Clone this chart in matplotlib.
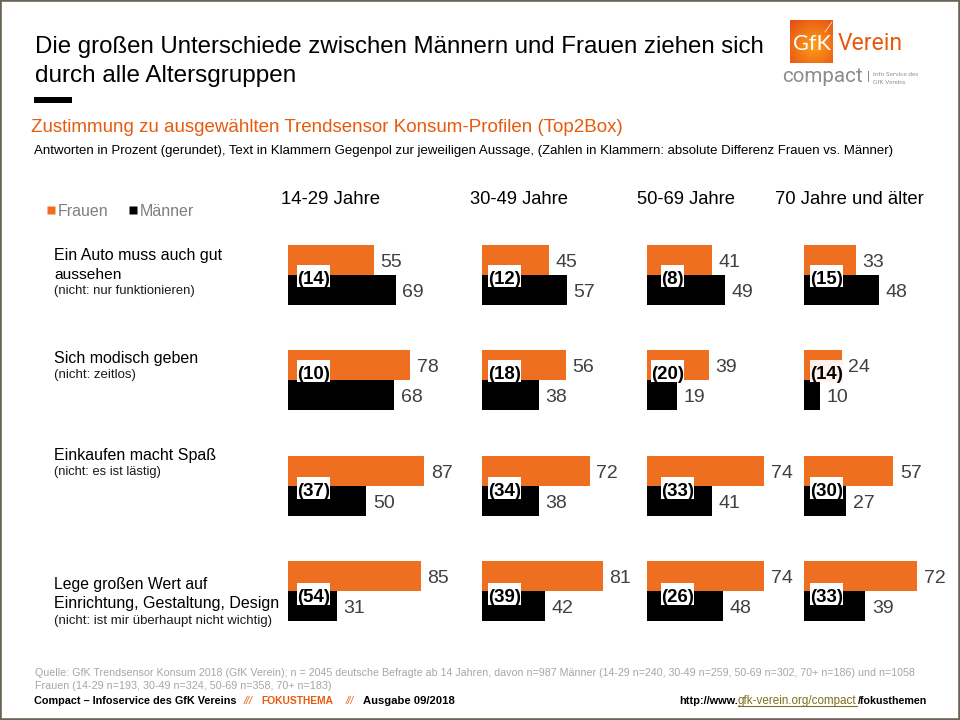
import numpy as np
import matplotlib
matplotlib.use("Agg")
import matplotlib.pyplot as plt
from matplotlib.patches import Rectangle
from matplotlib.lines import Line2D

# ---------- data ----------
panels = ["14-29 Jahre", "30-49 Jahre", "50-69 Jahre", "70 Jahre und älter"]
frauen = [[55, 78, 87, 85], [45, 56, 72, 81], [41, 39, 74, 74], [33, 24, 57, 72]]
maenner = [[69, 68, 50, 31], [57, 38, 38, 42], [49, 19, 41, 48], [48, 10, 27, 39]]
diffs = [[14, 10, 37, 54], [12, 18, 34, 39], [8, 20, 33, 26], [15, 14, 30, 33]]
series_names = ["Frauen", "Männer"]

# ---------- style / layout ----------
ORANGE = "#EE6F20"
TITLE_OR = "#E75B0D"
BORDER = "#6B6358"
FONT = "Liberation Sans"
W, H = 960, 720
plt.rcParams["font.family"] = [FONT, "DejaVu Sans"]

fig = plt.figure(figsize=(9.6, 7.2), dpi=100, facecolor="white")
renderer = fig.canvas.get_renderer()


def fx(x):
    return x / W


def fy(y):
    return 1 - y / H


def fit(s, x0, x1, base, color="black", size=10, weight="normal", style="normal", family=FONT, zorder=6):
    """Text starting at pixel x0, sized so that it ends at pixel x1."""
    t = fig.text(fx(x0), fy(base), s, color=color, fontsize=size, fontweight=weight, fontstyle=style,
                 family=family, ha="left", va="baseline", zorder=zorder)
    for _ in range(3):
        w = t.get_window_extent(renderer).width
        size = size * (x1 - x0) / w
        t.set_fontsize(size)
    return t


def box(x0, y0, x1, y1, color, zorder=2):
    fig.add_artist(Rectangle((fx(x0), fy(y1)), (x1 - x0) / W, (y1 - y0) / H, transform=fig.transFigure,
                             facecolor=color, edgecolor="none", zorder=zorder))


# frame
fig.add_artist(Rectangle((0, 0), 1, 1, transform=fig.transFigure, facecolor="none",
                         edgecolor=BORDER, linewidth=2.6, zorder=20))

# titles
fit("Die großen Unterschiede zwischen Männern und Frauen ziehen sich", 35, 763, 53, size=16)
fit("durch alle Altersgruppen", 35, 295, 82, size=16)
box(34, 97, 72, 103, "black")
fit("Zustimmung zu ausgewählten Trendsensor Konsum-Profilen (Top2Box)", 31, 622, 132, color=TITLE_OR, size=13)
fit("Antworten in Prozent (gerundet), Text in Klammern Gegenpol zur jeweiligen Aussage, (Zahlen in Klammern: "
    "absolute Differenz Frauen vs. Männer)", 34, 895, 154, size=8)

# legend
handles = [Line2D([], [], ls="none", marker="s", ms=6.2, mfc=c, mec="none") for c in (ORANGE, "black")]
fig.legend(handles, series_names, loc="center left", bbox_to_anchor=(fx(43), fy(211)), frameon=False,
           ncol=2, fontsize=11.5, labelcolor="#7F7F7F", handlelength=1.0, handletextpad=-0.05,
           columnspacing=1.0, borderpad=0, borderaxespad=0)

# panel headers
header_x = [(281, 380), (470, 568), (637, 735), (775, 924)]
for name, (a, b) in zip(panels, header_x):
    fit(name, a, b, 204, size=12)

# row labels
row_lines = [
    [("Ein Auto muss auch gut", 54, 222, 260, 0), ("aussehen", 54, 121, 279, 0),
     ("(nicht: nur funktionieren)", 54, 194, 294, 1)],
    [("Sich modisch geben", 54, 198, 363, 0), ("(nicht: zeitlos)", 54, 136, 378, 1)],
    [("Einkaufen macht Spaß", 54, 216, 460, 0), ("(nicht: es ist lästig)", 54, 162, 475, 1)],
    [("Lege großen Wert auf", 54, 208, 589, 0), ("Einrichtung, Gestaltung, Design", 54, 279, 608, 0),
     ("(nicht: ist mir überhaupt nicht wichtig)", 54, 272, 624, 1)],
]
for lines in row_lines:
    for s, a, b, base, small in lines:
        fit(s, a, b, base, color="black" if not small else "#1a1a1a", size=8 if small else 10.5)

# bars, one axes per age group, all sharing the same row grid
panel_x0 = [288, 482, 647, 804]
px_per_unit = [1.565, 1.495, 1.585, 1.57]
ROW0, ROW_STEP, BAR_PX = 275.0, 105.4, 30.0
TOP, BOTTOM, PANEL_W = 230, 640, 150
bar_h = BAR_PX / ROW_STEP
rows = np.arange(4)

for p in range(4):
    ax = fig.add_axes([fx(panel_x0[p]), fy(BOTTOM), PANEL_W / W, (BOTTOM - TOP) / H])
    ax.set_xlim(0, PANEL_W / px_per_unit[p])
    ax.set_ylim((BOTTOM - ROW0) / ROW_STEP, (TOP - ROW0) / ROW_STEP)
    ax.axis("off")
    ax.patch.set_alpha(0)
    ax.barh(rows - bar_h / 2, frauen[p], height=bar_h, color=ORANGE, linewidth=0)
    ax.barh(rows + bar_h / 2, maenner[p], height=bar_h, color="black", linewidth=0)
    for i in rows:
        for val, yy in ((frauen[p][i], i - bar_h / 2), (maenner[p][i], i + bar_h / 2)):
            ax.annotate(str(val), (val, yy), xytext=(6.5, -7), textcoords="offset pixels",
                        ha="left", va="baseline", fontsize=14, color="#404040", annotation_clip=False)

# difference labels on white boxes
diff_left = [[297] * 4, [488] * 4, [661, 651, 661, 661], [810] * 4]
diff_top = [265, 360, 477, 583]
for p in range(4):
    for i in rows:
        s = f"({diffs[p][i]})"
        x0 = diff_left[p][i]
        wd = 23 if len(s) == 3 else 33
        fc = "#FFF2EA" if (p == 3 and i == 1) else "white"
        box(x0, diff_top[i], x0 + wd, diff_top[i] + 22, fc, zorder=5)
        fig.text(fx(x0 + wd / 2), fy(diff_top[i] + 19), s, ha="center", va="baseline",
                 fontsize=13.4, fontweight="bold", color="black", zorder=6)

# footer
GREY = "#A6A6A6"
fit("Quelle: GfK Trendsensor Konsum 2018 (GfK Verein); n = 2045 deutsche Befragte ab 14 Jahren, davon n=987 Männer "
    "(14-29 n=240, 30-49 n=259, 50-69 n=302, 70+ n=186) und n=1058", 35, 917, 676, color=GREY, size=8)
fit("Frauen (14-29 n=193, 30-49 n=324, 50-69 n=358, 70+ n=183)", 35, 330, 689, color=GREY, size=8)
fit("Compact – Infoservice des GfK Vereins", 34, 237, 704, size=8, weight="bold")
fit("///", 244, 253, 704, color=TITLE_OR, size=8, style="italic")
fit("FOKUSTHEMA", 261, 333, 704, color=TITLE_OR, size=8, weight="bold")
fit("///", 346, 354, 704, color=TITLE_OR, size=8, style="italic")
fit("Ausgabe 09/2018", 363, 455, 704, size=8, weight="bold")
fit("http://www.", 679, 738, 704, size=8, weight="bold")
LINK = "#7F6F1E"
fit("gfk-verein.org/compact", 738, 856, 704, color=LINK, size=8)
fig.add_artist(Line2D([fx(738), fx(857)], [fy(706), fy(706)], color=LINK, lw=0.8, transform=fig.transFigure))
fit("/fokusthemen", 858, 927, 704, size=8, weight="bold")

# logo
lx0, lx1, ly0, ly1 = 790, 833, 20, 63
lax = fig.add_axes([fx(lx0), fy(ly1), (lx1 - lx0) / W, (ly1 - ly0) / H])
yy, xx = np.mgrid[0:1:64j, 0:1:64j]
r = np.clip(np.hypot(xx - 0.55, yy - 0.6) / 0.8, 0, 1)[..., None]
inner, outer = np.array([0.99, 0.62, 0.10]), np.array([0.90, 0.30, 0.08])
lax.imshow(inner * (1 - r) + outer * r, aspect="auto", interpolation="bilinear")
lax.axis("off")
fig.add_artist(Line2D([fx(825), fx(832)], [fy(32), fy(22)], color="white", lw=0.6, alpha=0.8,
                      transform=fig.transFigure, zorder=4))
fit("GfK", 793, 831, 50, color="white", size=16, family="Lato")
fit("Verein", 838, 903, 50, color="#E8590C", size=18, family="Roboto")
fit("compact", 782, 862, 82, color="#8C8C8C", size=18, family="Roboto")
box(868, 71, 869, 82, "#8C8C8C")
fit("Info Service des", 873, 918, 76, color="#8C8C8C", size=5, family="Lato")
fit("GfK Vereins", 873, 906, 84, color="#8C8C8C", size=5, family="Lato")

fig.savefig("out.png", dpi=100)
